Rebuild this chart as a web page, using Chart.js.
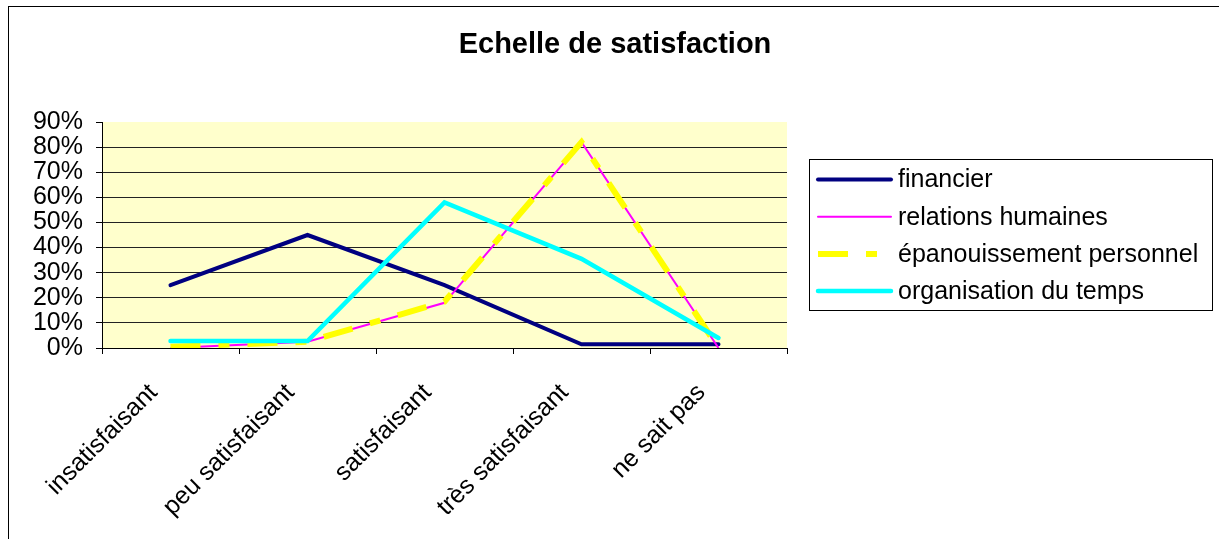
<!DOCTYPE html>
<html>
<head>
<meta charset="utf-8">
<script src="https://cdn.jsdelivr.net/npm/chart.js@4"></script>
<style>
    body { margin: 0; background: #fff; }
</style>
</head>
<body>
<canvas id="satisfactionChart" width="1219" height="539"></canvas>
<script>
// Echelle de satisfaction - line chart

const categories = ['insatisfaisant', 'peu satisfaisant', 'satisfaisant', 'très satisfaisant', 'ne sait pas'];
const seriesNames = ['financier', 'relations humaines', 'épanouissement personnel', 'organisation du temps'];

// values in percent
const financier = [25, 45, 25, 1.5, 1.5];
const relationsHumaines = [0, 2.5, 18, 82, 0];
const epanouissement = [0.5, 2.5, 18.5, 82, 0];
const organisationTemps = [2.8, 2.8, 58, 35.5, 4];

const yMax = 90;
const yStep = 10;

const FONT = '"Liberation Sans", Arial, sans-serif';

// background, outer frame, title and the boxed legend
const framePlugin = {
    id: 'framePlugin',
    beforeDraw(chart) {
        const { ctx, chartArea } = chart;
        ctx.save();
        ctx.fillStyle = '#fff';
        ctx.fillRect(0, 0, chart.width, chart.height);
        ctx.fillStyle = '#FFFFCC';
        ctx.fillRect(chartArea.left, chartArea.top, chartArea.right - chartArea.left, chartArea.bottom - chartArea.top);
        ctx.restore();
    },
    afterDraw(chart) {
        const ctx = chart.ctx;
        ctx.save();

        // outer border
        ctx.strokeStyle = '#000';
        ctx.lineWidth = 1;
        ctx.strokeRect(8.5, 6.5, 1300, 600);

        // title
        ctx.fillStyle = '#000';
        ctx.font = 'bold 29px ' + FONT;
        ctx.textAlign = 'center';
        ctx.textBaseline = 'alphabetic';
        ctx.fillText('Echelle de satisfaction', 615, 53);

        // legend
        ctx.strokeRect(809.5, 159.5, 403, 151);
        ctx.font = '25px ' + FONT;
        ctx.textAlign = 'left';
        ctx.textBaseline = 'middle';
        chart.data.datasets.forEach((ds, i) => {
            const y = 179.5 + i * 37.2;
            ctx.save();
            ctx.strokeStyle = ds.borderColor;
            ctx.lineWidth = ds.borderWidth;
            ctx.lineCap = ds.borderDash ? 'butt' : 'round';
            ctx.setLineDash(ds.borderDash || []);
            ctx.beginPath();
            ctx.moveTo(818, y);
            ctx.lineTo(891, y);
            ctx.stroke();
            ctx.restore();
            ctx.fillStyle = '#000';
            ctx.fillText(ds.label, 898, y + 1);
        });

        ctx.restore();
    }
};

const ctx = document.getElementById('satisfactionChart').getContext('2d');
const chart = new Chart(ctx, {
    type: 'line',
    data: {
        labels: categories,
        datasets: [{
            label: seriesNames[0],
            data: financier,
            borderColor: '#000080',
            borderWidth: 4,
            borderCapStyle: 'round',
            order: 4
        }, {
            label: seriesNames[1],
            data: relationsHumaines,
            borderColor: '#FF00FF',
            borderWidth: 2,
            order: 3
        }, {
            label: seriesNames[2],
            data: epanouissement,
            borderColor: '#FFFF00',
            borderWidth: 6,
            borderDash: [30, 18, 11, 18],
            order: 2
        }, {
            label: seriesNames[3],
            data: organisationTemps,
            borderColor: '#00FFFF',
            borderWidth: 4.5,
            borderCapStyle: 'round',
            order: 1
        }]
    },
    options: {
        responsive: false,
        animation: false,
        devicePixelRatio: 1,
        layout: {
            padding: { left: 0, top: 122, right: 432, bottom: 0 }
        },
        elements: {
            point: { radius: 0, hoverRadius: 0 },
            line: { tension: 0, fill: false }
        },
        plugins: {
            legend: { display: false },
            title: { display: false },
            tooltip: { enabled: false }
        },
        scales: {
            x: {
                type: 'category',
                offset: true,
                afterFit: (scale) => { scale.height = 191; },
                grid: {
                    offset: true,
                    drawOnChartArea: false,
                    drawTicks: true,
                    tickLength: 6,
                    color: '#000'
                },
                border: { display: true, color: '#000', width: 1 },
                ticks: {
                    color: '#000',
                    font: { family: FONT, size: 25 },
                    minRotation: 45,
                    maxRotation: 45,
                    autoSkip: false,
                    padding: 24,
                    labelOffset: -17
                }
            },
            y: {
                min: 0,
                max: yMax,
                afterFit: (scale) => { scale.width = 102; },
                grid: {
                    color: (c) => c.tick && c.tick.value === yMax ? 'rgba(0,0,0,0)' : '#222',
                    tickColor: '#000',
                    tickLength: 6,
                    lineWidth: 1
                },
                border: { display: true, color: '#000', width: 1 },
                ticks: {
                    stepSize: yStep,
                    autoSkip: false,
                    color: '#000',
                    font: { family: FONT, size: 25, lineHeight: 1 },
                    padding: 13,
                    callback: (v) => v + '%'
                }
            }
        }
    },
    plugins: [framePlugin]
});
</script>
</body>
</html>
